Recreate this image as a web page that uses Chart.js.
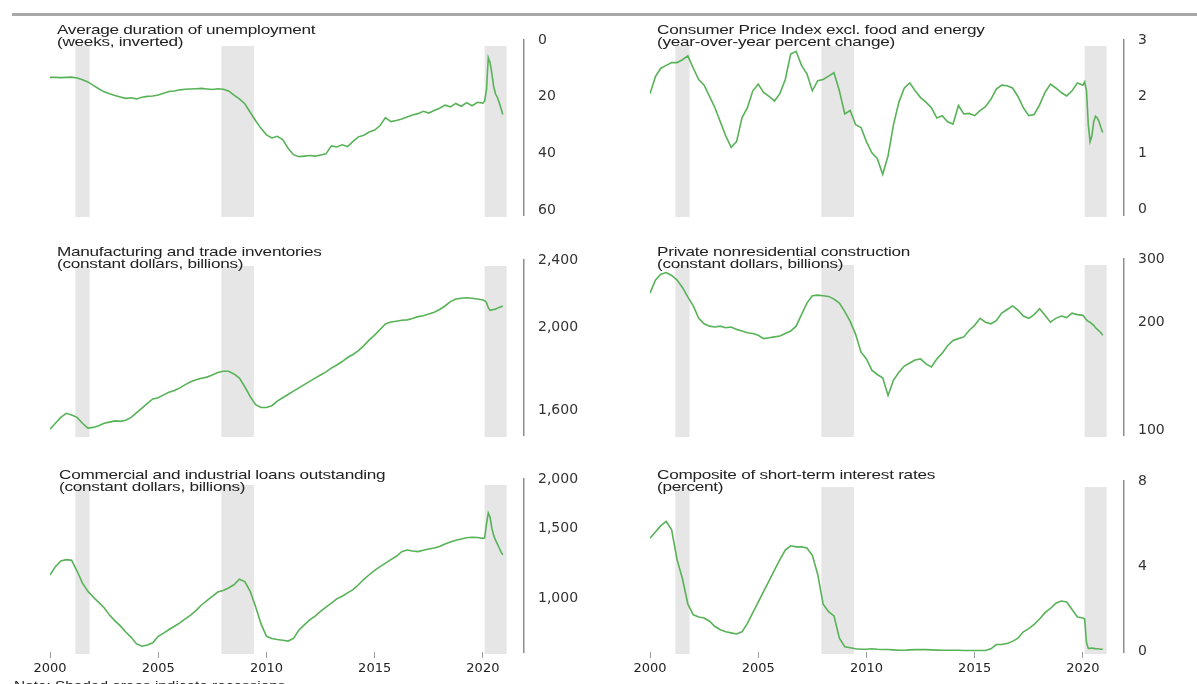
<!DOCTYPE html>
<html>
<head>
<meta charset="utf-8">
<script src="https://cdn.jsdelivr.net/npm/chart.js@4.4.1/dist/chart.umd.min.js"></script>
<style>
  body { margin: 0; width: 1197px; height: 684px; overflow: hidden; background: #fff; position: relative; font-family: "Liberation Sans", Arial, sans-serif; }
  .rule { position: absolute; left: 12px; right: 0; top: 13px; height: 3px; background: #a8a8a8; }
  canvas { position: absolute; }
  .title { position: absolute; font-size: 13px; line-height: 12px; color: #222; white-space: nowrap; transform: scaleX(1.32); transform-origin: 0 0; letter-spacing: -0.2px; }
  .note { position: absolute; left: 14px; top: 679px; font-size: 12px; color: #222; white-space: nowrap; transform: scaleX(1.28); transform-origin: 0 0; }
</style>
</head>
<body>
<div class="rule"></div>

<canvas id="unemployment" width="600" height="230" style="left:0;top:0"></canvas>
<canvas id="coreCpi" width="597" height="230" style="left:600px;top:0"></canvas>
<canvas id="inventories" width="600" height="220" style="left:0;top:230px"></canvas>
<canvas id="construction" width="597" height="220" style="left:600px;top:230px"></canvas>
<canvas id="loans" width="600" height="234" style="left:0;top:450px"></canvas>
<canvas id="rates" width="597" height="234" style="left:600px;top:450px"></canvas>

<div class="title" style="left:57px;top:24px">Average duration of unemployment<br>(weeks, inverted)</div>
<div class="title" style="left:657px;top:24px">Consumer Price Index excl. food and energy<br>(year-over-year percent change)</div>
<div class="title" style="left:57px;top:246px">Manufacturing and trade inventories<br>(constant dollars, billions)</div>
<div class="title" style="left:657px;top:246px">Private nonresidential construction<br>(constant dollars, billions)</div>
<div class="title" style="left:59px;top:469px">Commercial and industrial loans outstanding<br>(constant dollars, billions)</div>
<div class="title" style="left:657px;top:469px">Composite of short-term interest rates<br>(percent)</div>
<div class="note">Note: Shaded areas indicate recessions.</div>

<script>
// Dates: quarterly 2000-2019, monthly in 2020
const dates = [
  2000, 2000.25, 2000.5, 2000.75, 2001, 2001.25, 2001.5, 2001.75,
  2002, 2002.25, 2002.5, 2002.75, 2003, 2003.25, 2003.5, 2003.75,
  2004, 2004.25, 2004.5, 2004.75, 2005, 2005.25, 2005.5, 2005.75,
  2006, 2006.25, 2006.5, 2006.75, 2007, 2007.25, 2007.5, 2007.75,
  2008, 2008.25, 2008.5, 2008.75, 2009, 2009.25, 2009.5, 2009.75,
  2010, 2010.25, 2010.5, 2010.75, 2011, 2011.25, 2011.5, 2011.75,
  2012, 2012.25, 2012.5, 2012.75, 2013, 2013.25, 2013.5, 2013.75,
  2014, 2014.25, 2014.5, 2014.75, 2015, 2015.25, 2015.5, 2015.75,
  2016, 2016.25, 2016.5, 2016.75, 2017, 2017.25, 2017.5, 2017.75,
  2018, 2018.25, 2018.5, 2018.75, 2019, 2019.25, 2019.5, 2019.75,
  2020, 2020.083, 2020.167, 2020.25, 2020.333, 2020.417,
  2020.5, 2020.583, 2020.667, 2020.75, 2020.833, 2020.917,
];

// Recession periods (shaded)
const recessions = [
  [2001.17, 2001.83],
  [2007.92, 2009.42],
  [2020.08, 2021.1],
];

const yearTicks = [2000, 2005, 2010, 2015, 2020];

// Average duration of unemployment, weeks
const unemploymentWeeks = [
  13.2, 13.2, 13.3, 13.2, 13.1, 13.4, 14.0, 14.8,
  16.0, 17.2, 18.3, 19.0, 19.6, 20.1, 20.6, 20.4,
  20.8, 20.2, 19.9, 19.8, 19.4, 18.8, 18.2, 18.0,
  17.6, 17.4, 17.3, 17.2, 17.1, 17.3, 17.5, 17.2,
  17.4, 18.0, 19.5, 20.8, 22.5, 25.5, 28.5, 31.2,
  33.5, 34.6, 34.0, 35.2, 38.2, 40.5, 41.2, 41.0,
  40.8, 41.0, 40.6, 40.2, 37.4, 37.8, 37.0, 37.6,
  35.8, 34.2, 33.6, 32.5, 31.8, 30.2, 27.4, 28.8,
  28.4, 27.9, 27.2, 26.5, 26.0, 25.2, 25.8, 24.9,
  24.1, 23.0, 23.6, 22.4, 23.4, 22.1, 23.2, 22.0,
  22.3, 21.5, 17.5, 6.2, 8.0, 12.0, 16.5, 19.0, 20.2, 22.0, 24.0, 26.3,
];
const unemploymentTicks = [0, 20, 40, 60];

// CPI excl. food and energy, year-over-year percent change
const coreCpi = [
  2.05, 2.35, 2.5, 2.55, 2.6, 2.6, 2.65, 2.72,
  2.5, 2.3, 2.2, 2.0, 1.8, 1.55, 1.3, 1.1,
  1.2, 1.62, 1.8, 2.1, 2.22, 2.07, 2.0, 1.92,
  2.05, 2.3, 2.75, 2.8, 2.55, 2.4, 2.1, 2.28,
  2.3, 2.36, 2.42, 2.1, 1.69, 1.75, 1.5, 1.45,
  1.2, 1.0, 0.9, 0.62, 0.95, 1.5, 1.9, 2.15,
  2.24, 2.1, 1.98, 1.9, 1.8, 1.62, 1.66, 1.55,
  1.51, 1.84, 1.69, 1.7, 1.66, 1.75, 1.82, 1.95,
  2.13, 2.2, 2.19, 2.15, 2.0, 1.8, 1.66, 1.68,
  1.85, 2.07, 2.22, 2.15, 2.07, 2.01, 2.1, 2.24,
  2.2, 2.26, 2.1, 1.5, 1.2, 1.3, 1.55, 1.65, 1.62, 1.55, 1.45, 1.36,
];
const coreCpiTicks = [0, 1, 2, 3];

// Manufacturing and trade inventories, constant dollars, billions
const inventories = [
  1521, 1545, 1570, 1587, 1580, 1570, 1545, 1525,
  1528, 1535, 1545, 1550, 1555, 1553, 1558, 1570,
  1590, 1610, 1630, 1650, 1655, 1668, 1680, 1688,
  1700, 1715, 1728, 1738, 1745, 1750, 1760, 1772,
  1778, 1778, 1765, 1745, 1705, 1660, 1625, 1612,
  1612, 1620, 1640, 1655, 1670, 1685, 1700, 1715,
  1730, 1745, 1760, 1775, 1793, 1808, 1825, 1845,
  1860, 1880, 1905, 1935, 1960, 1990, 2020, 2030,
  2035, 2040, 2042, 2050, 2060, 2065, 2075, 2085,
  2100, 2120, 2145, 2160, 2165, 2168, 2165, 2160,
  2155, 2150, 2140, 2110, 2095, 2098, 2100, 2102, 2108, 2112, 2116, 2120,
];
const inventoryTicks = [1600, 2000, 2400];

// Private nonresidential construction, constant dollars, billions
const construction = [
  241, 262, 272, 275, 270, 262, 250, 235,
  222, 205, 198, 195, 194, 195, 193, 194,
  191, 189, 187, 186, 184, 180, 181, 182,
  183, 186, 189, 195, 210, 226, 237, 238,
  237, 236, 232, 226, 214, 201, 185, 165,
  158, 147, 143, 140, 125, 138, 145, 151,
  154, 157, 158, 153, 150, 158, 164, 172,
  178, 180, 182, 190, 196, 205, 200, 198,
  202, 212, 217, 222, 216, 208, 205, 210,
  218, 209, 200, 205, 208, 206, 212, 210,
  209, 206, 203, 201, 200, 198, 196, 193, 191, 189, 187, 184,
];
const constructionTicks = [100, 200, 300];

// Commercial and industrial loans outstanding, constant dollars, billions
const loans = [
  1143, 1200, 1240, 1250, 1245, 1170, 1090, 1040,
  1005, 975, 945, 905, 875, 850, 820, 795,
  765, 755, 760, 770, 800, 815, 832, 848,
  865, 885, 905, 930, 960, 985, 1010, 1035,
  1045, 1060, 1080, 1115, 1100, 1040, 950, 860,
  800, 790, 785, 782, 778, 790, 830, 855,
  880, 900, 925, 948, 970, 995, 1010, 1030,
  1050, 1080, 1115, 1145, 1175, 1200, 1225, 1250,
  1275, 1310, 1322, 1315, 1310, 1320, 1330, 1338,
  1350, 1370, 1385, 1400, 1410, 1420, 1425, 1422,
  1415, 1420, 1540, 1640, 1600, 1500, 1440, 1400, 1370, 1340, 1310, 1285,
];
const loanTicks = [1000, 1500, 2000];

// Composite of short-term interest rates, percent
const shortRates = [
  5.3, 5.6, 5.9, 6.1, 5.7, 4.3, 3.4, 2.2,
  1.7, 1.6, 1.55, 1.4, 1.15, 1.0, 0.9, 0.85,
  0.8, 0.9, 1.3, 1.8, 2.3, 2.8, 3.3, 3.8,
  4.3, 4.75, 4.95, 4.9, 4.9, 4.85, 4.5, 3.6,
  2.2, 1.85, 1.65, 0.6, 0.2, 0.15, 0.1, 0.08,
  0.08, 0.1, 0.08, 0.07, 0.07, 0.05, 0.03, 0.03,
  0.05, 0.06, 0.06, 0.06, 0.05, 0.04, 0.03, 0.03,
  0.03, 0.03, 0.02, 0.02, 0.02, 0.02, 0.02, 0.1,
  0.3, 0.3, 0.35, 0.45, 0.6, 0.9, 1.05, 1.25,
  1.5, 1.8, 2.0, 2.25, 2.35, 2.3, 1.95, 1.6,
  1.55, 1.5, 0.4, 0.12, 0.12, 0.14, 0.12, 0.1, 0.1, 0.09, 0.08, 0.08,
];
const rateTicks = [0, 4, 8];

const lineColor = "#58b258";
const bandColor = "#e6e6e6";
const axisColor = "#8f8f8f";
const tickFont = { family: "DejaVu Sans", size: 14 };

// Shaded recession bars behind the line
const recessionBands = {
  id: "recessionBands",
  beforeDatasetsDraw(chart) {
    const { ctx, chartArea, scales } = chart;
    ctx.save();
    ctx.fillStyle = bandColor;
    recessions.forEach(([start, end]) => {
      const x0 = scales.x.getPixelForValue(start);
      const x1 = scales.x.getPixelForValue(end);
      ctx.fillRect(x0, chartArea.top + 6, x1 - x0, chartArea.bottom - chartArea.top - 4);
    });
    ctx.restore();
  },
};

const formatTick = (v) => Number(v).toLocaleString("en-US");

const createPanel = (id, values, opts) => {
  const canvas = document.getElementById(id);
  return new Chart(canvas.getContext("2d"), {
    type: "line",
    data: {
      datasets: [
        {
          data: dates.map((d, i) => ({ x: d, y: values[i] })),
          borderColor: lineColor,
          borderWidth: 1.6,
          pointRadius: 0,
          tension: 0,
        },
      ],
    },
    options: {
      responsive: false,
      animation: false,
      devicePixelRatio: 1,
      layout: { padding: opts.padding },
      plugins: { legend: { display: false }, tooltip: { enabled: false } },
      scales: {
        x: {
          type: "linear",
          min: 2000,
          max: 2021.9,
          display: opts.showYears,
          afterBuildTicks: (s) => { s.ticks = yearTicks.map((v) => ({ value: v })); },
          afterFit: (s) => { s.height = opts.showYears ? 26 : 0; },
          grid: { drawOnChartArea: false, color: "#9a9a9a", tickLength: 6 },
          border: { display: false },
          ticks: { font: { family: "DejaVu Sans", size: 13 }, color: "#222", padding: 3, maxRotation: 0, callback: (v) => String(v) },
        },
        y: {
          type: opts.type,
          position: "right",
          min: opts.min,
          max: opts.max,
          reverse: !!opts.reverse,
          afterBuildTicks: (s) => { s.ticks = opts.ticks.map((v) => ({ value: v })); },
          afterFit: (s) => { s.width = 70; },
          // invisible tick marks give the gap between axis line and labels
          grid: { display: true, drawOnChartArea: false, drawTicks: true, tickLength: 14, color: "rgba(0,0,0,0)" },
          border: { display: true, color: axisColor, width: 1.5 },
          ticks: { font: tickFont, color: "#333", padding: 0, callback: formatTick },
        },
      },
    },
    plugins: [recessionBands],
  });
};

// Top row
createPanel("unemployment", unemploymentWeeks, {
  type: "linear", min: 0, max: 61.8, reverse: true, ticks: unemploymentTicks,
  padding: { left: 50, right: 6, top: 40, bottom: 15 }, showYears: false,
});
createPanel("coreCpi", coreCpi, {
  type: "linear", min: -0.1, max: 3, ticks: coreCpiTicks,
  padding: { left: 50, right: 3, top: 40, bottom: 15 }, showYears: false,
});

// Middle row
createPanel("inventories", inventories, {
  type: "logarithmic", min: 1497, max: 2400, ticks: inventoryTicks,
  padding: { left: 50, right: 6, top: 30, bottom: 15 }, showYears: false,
});
createPanel("construction", construction, {
  type: "logarithmic", min: 97, max: 300, ticks: constructionTicks,
  padding: { left: 50, right: 3, top: 29, bottom: 15 }, showYears: false,
});

// Bottom row
createPanel("loans", loans, {
  type: "logarithmic", min: 730, max: 2000, ticks: loanTicks,
  padding: { left: 50, right: 6, top: 29, bottom: 6 }, showYears: true,
});
createPanel("rates", shortRates, {
  type: "linear", min: -0.05, max: 8, ticks: rateTicks,
  padding: { left: 50, right: 3, top: 31, bottom: 6 }, showYears: true,
});
</script>
</body>
</html>
